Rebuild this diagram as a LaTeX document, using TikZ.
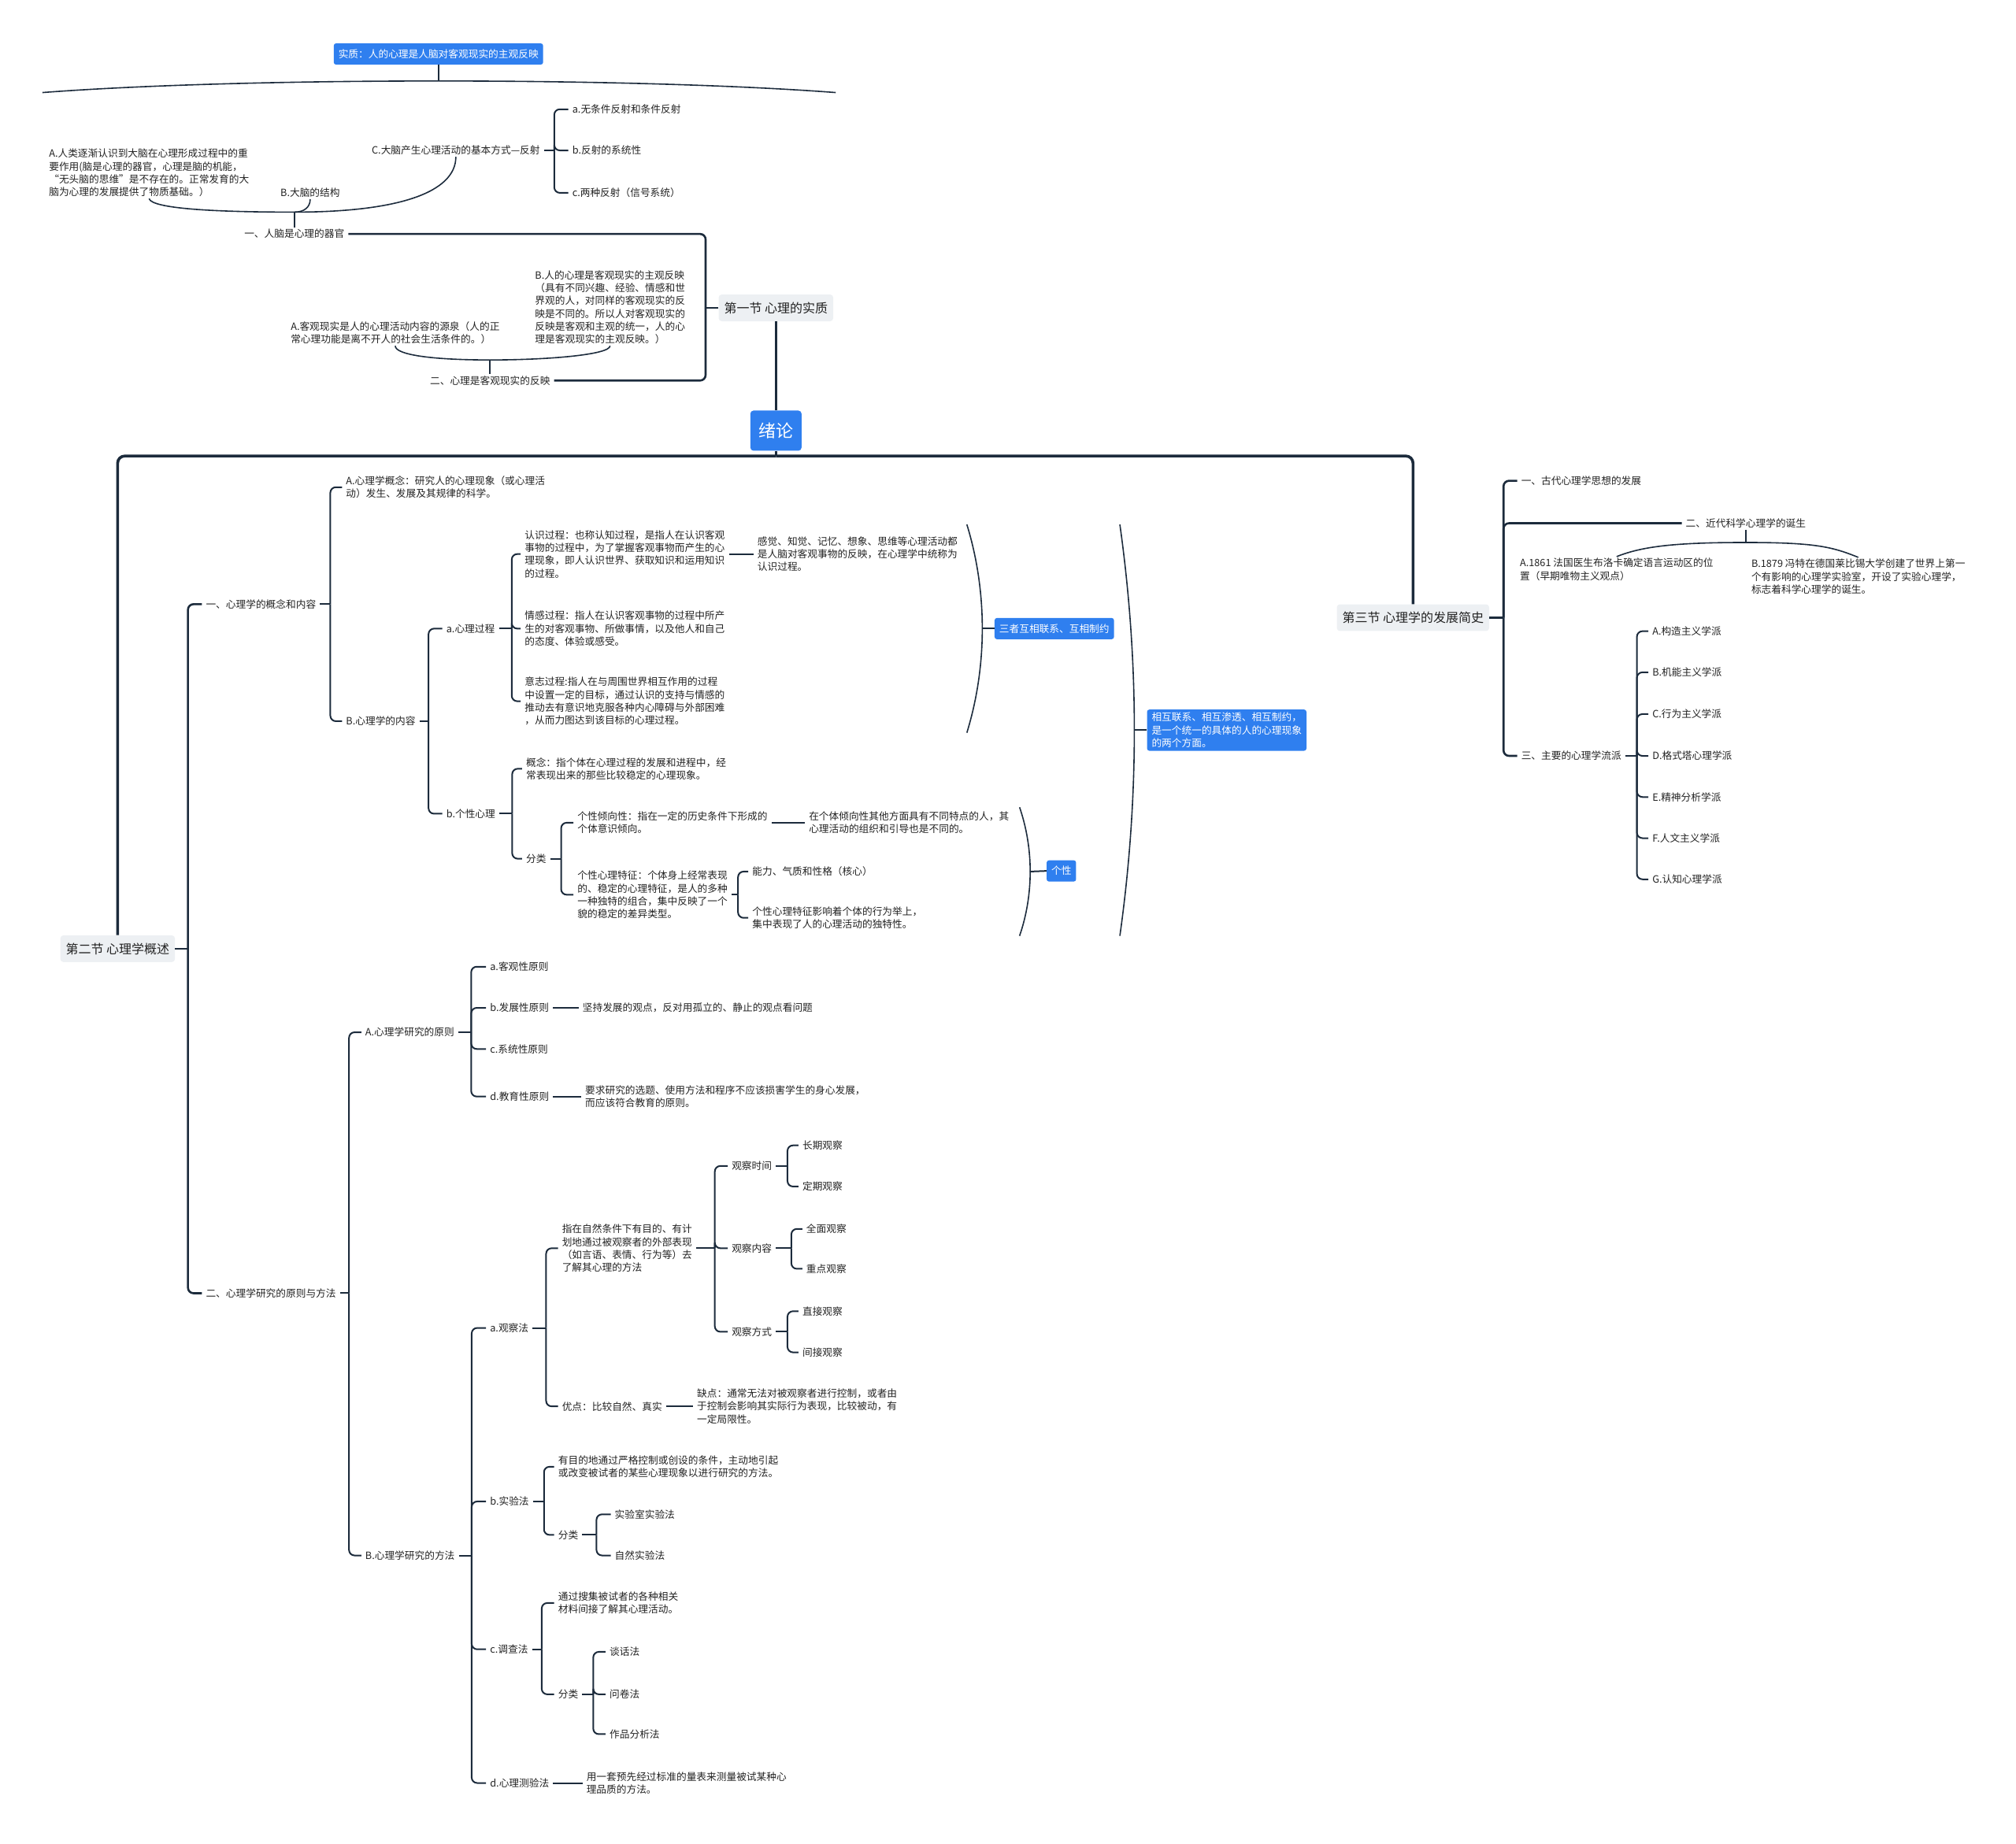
\documentclass[tikz,border=0pt]{standalone}
\usepackage{fontspec}
\setmainfont{Noto Sans CJK SC}
\usetikzlibrary{positioning}
\definecolor{mmblue}{HTML}{2F7FEF}
\definecolor{mmline}{HTML}{1C2B3C}
\definecolor{mmgray}{HTML}{EDF0F3}
\definecolor{mmtext}{HTML}{222222}
\tikzset{
  mm/txt/.style={inner xsep=5pt, inner ysep=2pt, align=left, text=mmtext, font={\fontsize{12.7}{16.3}\selectfont}},
  mm/sec/.style={fill=mmgray, rounded corners=4pt, inner xsep=7pt, minimum height=34pt, text=mmtext, font={\fontsize{16}{20}\selectfont}},
  mm/blue/.style={fill=mmblue, text=white, rounded corners=3pt, inner xsep=6pt, inner ysep=4pt, minimum height=27pt, align=left, font={\fontsize{12.7}{16.3}\selectfont}},
  mm/root/.style={mm/blue, rounded corners=4pt, minimum width=65pt, minimum height=51pt, font={\fontsize{22}{26}\selectfont}},
  mm/br/.style={draw=mmline, line width=2pt, rounded corners=7pt},
  mm/br2/.style={mm/br, line width=2.6pt},
  mm/trunk/.style={draw=mmline, line width=3.6pt, rounded corners=9pt},
  mm/sum/.style={draw=mmline, line width=1.6pt}
}
\begin{document}
\begin{tikzpicture}[x=1.633pt, y=-1.633pt]
\useasboundingbox (0,0) rectangle (1568,1434);
% 第一节
\node[mm/blue] (essence) at (341,42) {实质：人的心理是人脑对客观现实的主观反映};
\node[mm/txt, anchor=west] (brainA) at (35,134.5) {A.人类逐渐认识到大脑在心理形成过程中的重\\要作用(脑是心理的器官，心理是脑的机能，\\“无头脑的思维”是不存在的。正常发育的大\\脑为心理的发展提供了物质基础。）};
\node[mm/txt, anchor=west] (brainB) at (215,150) {B.大脑的结构};
\node[mm/txt, anchor=west] (brainC) at (286,117) {C.大脑产生心理活动的基本方式—反射};
\node[mm/txt, anchor=west] (refa) at (442,85) {a.无条件反射和条件反射};
\node[mm/txt, anchor=west] (refb) at (442,117) {b.反射的系统性};
\node[mm/txt, anchor=west] (refc) at (442,150) {c.两种反射（信号系统）};
\node[mm/txt, anchor=east] (organ) at (271,182) {一、人脑是心理的器官};
\node[mm/txt, anchor=west] (objA) at (223,259) {A.客观现实是人的心理活动内容的源泉（人的正\\常心理功能是离不开人的社会生活条件的。）};
\node[mm/txt, anchor=west] (objB) at (413,239) {B.人的心理是客观现实的主观反映\\（具有不同兴趣、经验、情感和世\\界观的人，对同样的客观现实的反\\映是不同的。所以人对客观现实的\\反映是客观和主观的统一，人的心\\理是客观现实的主观反映。）};
\node[mm/txt, anchor=east] (reflect) at (431,296) {二、心理是客观现实的反映};
\node[mm/sec] (sec1) at (603.5,239.5) {第一节 心理的实质};
\node[mm/root] (root) at (603.5,335) {绪论};

\coordinate (arcL) at (33,72);
\coordinate (arcR) at (650,72);
\coordinate (arcM) at (essence.south |- 0,63);
\coordinate (orgJ) at (organ.north |- 0,165);
\coordinate (objJ) at (reflect.north |- 0,280);
\draw[mm/sum] (arcL) .. controls (190,60) and (492,60) .. (arcR);
\draw[mm/sum] (essence.south) -- (arcM);
\draw[mm/br] (brainC.east) -- ++(8,0);
\foreach \k in {refa,refb,refc} \draw[mm/br] (brainC.east) ++(8,0) |- (\k.west);
\draw[mm/sum] (brainA.south) .. controls +(2,8) and +(-60,0) .. (orgJ) .. controls +(80,0) and +(0,28) .. (brainC.south);
\draw[mm/sum] (brainB.south) .. controls +(0,6) and +(8,0) .. (orgJ);
\draw[mm/sum] (orgJ) -- (organ.north);
\draw[mm/sum] (objA.south) .. controls +(0,7) and +(-45,0) .. (objJ) .. controls +(45,0) and +(0,7) .. (objB.south);
\draw[mm/sum] (objJ) -- (reflect.north);
\draw[mm/br2] (sec1.west) -- ++(-10,0);
\foreach \k in {organ,reflect} \draw[mm/br2] (sec1.west) ++(-10,0) |- (\k.east);

% 第二节
\node[mm/sec] (sec2) at (91.5,738) {第二节 心理学概述};
\node[mm/txt, anchor=west] (con) at (157,470) {一、心理学的概念和内容};
\node[mm/txt, anchor=west] (res) at (157,1006) {二、心理学研究的原则与方法};
\node[mm/txt, anchor=west] (def) at (266,379) {A.心理学概念：研究人的心理现象（或心理活\\动）发生、发展及其规律的科学。};
\node[mm/txt, anchor=west] (content) at (266,561) {B.心理学的内容};
\node[mm/txt, anchor=west] (proc) at (344,489) {a.心理过程};
\node[mm/txt, anchor=west] (pers) at (344,633) {b.个性心理};
\node[mm/txt, anchor=west] (cog) at (405,431) {认识过程：也称认知过程，是指人在认识客观\\事物的过程中，为了掌握客观事物而产生的心\\理现象，即人认识世界、获取知识和运用知识\\的过程。};
\node[mm/txt, anchor=west] (cogx) at (586,431) {感觉、知觉、记忆、想象、思维等心理活动都\\是人脑对客观事物的反映，在心理学中统称为\\认识过程。};
\node[mm/txt, anchor=west] (emo) at (405,489) {情感过程：指人在认识客观事物的过程中所产\\生的对客观事物、所做事情，以及他人和自己\\的态度、体验或感受。};
\node[mm/txt, anchor=west] (will) at (405,545.5) {意志过程:指人在与周围世界相互作用的过程\\中设置一定的目标，通过认识的支持与情感的\\推动去有意识地克服各种内心障碍与外部困难\\，从而力图达到该目标的心理过程。};
\node[mm/blue] (ps1) at (820,489) {三者互相联系、互相制约};
\node[mm/blue, anchor=west] (ps2) at (892,568) {相互联系、相互渗透、相互制约，\\是一个统一的具体的人的心理现象\\的两个方面。};
\node[mm/txt, anchor=west] (pdef) at (406,598) {概念：指个体在心理过程的发展和进程中，经\\常表现出来的那些比较稳定的心理现象。};
\node[mm/txt, anchor=west] (pcls) at (406,668) {分类};
\node[mm/txt, anchor=west] (tend) at (446,640) {个性倾向性：指在一定的历史条件下形成的\\个体意识倾向。};
\node[mm/txt, anchor=west] (tendx) at (626,640) {在个体倾向性其他方面具有不同特点的人，其\\心理活动的组织和引导也是不同的。};
\node[mm/txt, anchor=west] (trait) at (446,696) {个性心理特征：个体身上经常表现\\的、稳定的心理特征，是人的多种\\一种独特的组合，集中反映了一个\\貌的稳定的差异类型。};
\node[mm/txt, anchor=west] (abil) at (582,678) {能力、气质和性格（核心）};
\node[mm/txt, anchor=west] (traitx) at (582,714) {个性心理特征影响着个体的行为举上，\\集中表现了人的心理活动的独特性。};
\node[mm/blue] (ps3) at (825.5,677.5) {个性};

\node[mm/txt, anchor=west] (princ) at (281,803) {A.心理学研究的原则};
\node[mm/txt, anchor=west] (meth) at (281,1210) {B.心理学研究的方法};
\node[mm/txt, anchor=west] (pa) at (378,752) {a.客观性原则};
\node[mm/txt, anchor=west] (pb) at (378,784) {b.发展性原则};
\node[mm/txt, anchor=west] (pc) at (378,816) {c.系统性原则};
\node[mm/txt, anchor=west] (pd) at (378,853) {d.教育性原则};
\node[mm/txt, anchor=west] (pbx) at (450,784) {坚持发展的观点，反对用孤立的、静止的观点看问题};
\node[mm/txt, anchor=west] (pdx) at (452,853) {要求研究的选题、使用方法和程序不应该损害学生的身心发展，\\而应该符合教育的原则。};
\node[mm/txt, anchor=west] (obs) at (378,1033) {a.观察法};
\node[mm/txt, anchor=west] (exp) at (378,1168) {b.实验法};
\node[mm/txt, anchor=west] (srv) at (378,1283) {c.调查法};
\node[mm/txt, anchor=west] (tst) at (378,1387) {d.心理测验法};
\node[mm/txt, anchor=west] (obsdef) at (434,971) {指在自然条件下有目的、有计\\划地通过被观察者的外部表现\\（如言语、表情、行为等）去\\了解其心理的方法};
\node[mm/txt, anchor=west] (obsadv) at (434,1094) {优点：比较自然、真实};
\node[mm/txt, anchor=west] (obsdis) at (539,1094) {缺点：通常无法对被观察者进行控制，或者由\\于控制会影响其实际行为表现，比较被动，有\\一定局限性。};
\node[mm/txt, anchor=west] (otime) at (566,907) {观察时间};
\node[mm/txt, anchor=west] (ocont) at (566,971) {观察内容};
\node[mm/txt, anchor=west] (oway) at (566,1036) {观察方式};
\node[mm/txt, anchor=west] (olong) at (621,891) {长期观察};
\node[mm/txt, anchor=west] (oreg) at (621,923) {定期观察};
\node[mm/txt, anchor=west] (oall) at (624,956) {全面观察};
\node[mm/txt, anchor=west] (okey) at (624,987) {重点观察};
\node[mm/txt, anchor=west] (odir) at (621,1020) {直接观察};
\node[mm/txt, anchor=west] (oind) at (621,1052) {间接观察};
\node[mm/txt, anchor=west] (expdef) at (431,1141) {有目的地通过严格控制或创设的条件，主动地引起\\或改变被试者的某些心理现象以进行研究的方法。};
\node[mm/txt, anchor=west] (expcls) at (431,1194) {分类};
\node[mm/txt, anchor=west] (lab) at (475,1178) {实验室实验法};
\node[mm/txt, anchor=west] (nat) at (475,1210) {自然实验法};
\node[mm/txt, anchor=west] (srvdef) at (431,1247) {通过搜集被试者的各种相关\\材料间接了解其心理活动。};
\node[mm/txt, anchor=west] (srvcls) at (431,1318) {分类};
\node[mm/txt, anchor=west] (talk) at (471,1285) {谈话法};
\node[mm/txt, anchor=west] (ques) at (471,1318) {问卷法};
\node[mm/txt, anchor=west] (work) at (471,1349) {作品分析法};
\node[mm/txt, anchor=west] (tstx) at (453,1387) {用一套预先经过标准的量表来测量被试某种心\\理品质的方法。};

\draw[mm/br2] (sec2.east) -- ++(10,0);
\foreach \k in {con,res} \draw[mm/br2] (sec2.east) ++(10,0) |- (\k.west);
\draw[mm/br] (con.east) -- ++(8,0);
\foreach \k in {def,content} \draw[mm/br] (con.east) ++(8,0) |- (\k.west);
\draw[mm/br] (content.east) -- ++(7,0);
\foreach \k in {proc,pers} \draw[mm/br] (content.east) ++(7,0) |- (\k.west);
\draw[mm/br] (proc.east) -- ++(10,0);
\foreach \k in {cog,emo,will} \draw[mm/br] (proc.east) ++(10,0) |- (\k.west);
\draw[mm/br] (cog.east) -- (cogx.west);
\draw[mm/br] (pers.east) -- ++(10,0);
\foreach \k in {pdef,pcls} \draw[mm/br] (pers.east) ++(10,0) |- (\k.west);
\draw[mm/br] (pcls.east) -- ++(8.5,0);
\foreach \k in {tend,trait} \draw[mm/br] (pcls.east) ++(8.5,0) |- (\k.west);
\draw[mm/br] (tend.east) -- (tendx.west);
\draw[mm/br] (trait.east) -- ++(5,0);
\foreach \k in {abil,traitx} \draw[mm/br] (trait.east) ++(5,0) |- (\k.west);

\coordinate (s1) at (764,489);
\coordinate (s2) at (882,568);
\coordinate (s3) at (801,678);
\draw[mm/sum] (752,408) .. controls (768,460) and (768,518) .. (752,570);
\draw[mm/sum] (871,408) .. controls (886,515) and (886,621) .. (871,728);
\draw[mm/sum] (793,628) .. controls (804,660) and (804,696) .. (793,728);
\draw[mm/br] (s1) -- (ps1.west);
\draw[mm/br] (s2) -- (ps2.west);
\draw[mm/br] (s3) -- (ps3.west);

\draw[mm/br] (res.east) -- ++(7,0);
\foreach \k in {princ,meth} \draw[mm/br] (res.east) ++(7,0) |- (\k.west);
\draw[mm/br] (princ.east) -- ++(10,0);
\foreach \k in {pa,pb,pc,pd} \draw[mm/br] (princ.east) ++(10,0) |- (\k.west);
\draw[mm/br] (pb.east) -- (pbx.west);
\draw[mm/br] (pd.east) -- (pdx.west);
\draw[mm/br] (meth.east) -- ++(10,0);
\foreach \k in {obs,exp,srv,tst} \draw[mm/br] (meth.east) ++(10,0) |- (\k.west);
\draw[mm/br] (obs.east) -- ++(10.5,0);
\foreach \k in {obsdef,obsadv} \draw[mm/br] (obs.east) ++(10.5,0) |- (\k.west);
\draw[mm/br] (obsadv.east) -- (obsdis.west);
\draw[mm/br] (obsdef.east) -- ++(14.5,0);
\foreach \k in {otime,ocont,oway} \draw[mm/br] (obsdef.east) ++(14.5,0) |- (\k.west);
\draw[mm/br] (otime.east) -- ++(9,0);
\foreach \k in {olong,oreg} \draw[mm/br] (otime.east) ++(9,0) |- (\k.west);
\draw[mm/br] (ocont.east) -- ++(12,0);
\foreach \k in {oall,okey} \draw[mm/br] (ocont.east) ++(12,0) |- (\k.west);
\draw[mm/br] (oway.east) -- ++(9,0);
\foreach \k in {odir,oind} \draw[mm/br] (oway.east) ++(9,0) |- (\k.west);
\draw[mm/br] (exp.east) -- ++(8.5,0);
\foreach \k in {expdef,expcls} \draw[mm/br] (exp.east) ++(8.5,0) |- (\k.west);
\draw[mm/br] (expcls.east) -- ++(11,0);
\foreach \k in {lab,nat} \draw[mm/br] (expcls.east) ++(11,0) |- (\k.west);
\draw[mm/br] (srv.east) -- ++(7.5,0);
\foreach \k in {srvdef,srvcls} \draw[mm/br] (srv.east) ++(7.5,0) |- (\k.west);
\draw[mm/br] (srvcls.east) -- ++(8.5,0);
\foreach \k in {talk,ques,work} \draw[mm/br] (srvcls.east) ++(8.5,0) |- (\k.west);
\draw[mm/br] (tst.east) -- (tstx.west);

% 第三节
\node[mm/sec] (sec3) at (1099,480.5) {第三节 心理学的发展简史};
\node[mm/txt, anchor=west] (anc) at (1180,374) {一、古代心理学思想的发展};
\node[mm/txt, anchor=west] (modern) at (1308,407) {二、近代科学心理学的诞生};
\node[mm/txt, anchor=west] (modA) at (1179,443) {A.1861 法国医生布洛卡确定语言运动区的位\\置（早期唯物主义观点）};
\node[mm/txt, anchor=west] (modB) at (1359,448.5) {B.1879 冯特在德国莱比锡大学创建了世界上第一\\个有影响的心理学实验室，开设了实验心理学，\\标志着科学心理学的诞生。};
\node[mm/txt, anchor=west] (schools) at (1180,588) {三、主要的心理学流派};
\node[mm/txt, anchor=west] (sa) at (1282,491) {A.构造主义学派};
\node[mm/txt, anchor=west] (sb) at (1282,523) {B.机能主义学派};
\node[mm/txt, anchor=west] (sc) at (1282,555.5) {C.行为主义学派};
\node[mm/txt, anchor=west] (sd) at (1282,588) {D.格式塔心理学派};
\node[mm/txt, anchor=west] (se) at (1282,620) {E.精神分析学派};
\node[mm/txt, anchor=west] (sf) at (1282,652) {F.人文主义学派};
\node[mm/txt, anchor=west] (sg) at (1282,684) {G.认知心理学派};

\coordinate (modJ) at (modern.south |- 0,422);
\draw[mm/br2] (sec3.east) -- ++(11,0);
\foreach \k in {anc,modern,schools} \draw[mm/br2] (sec3.east) ++(11,0) |- (\k.west);
\draw[mm/sum] (modern.south) -- (modJ);
\draw[mm/sum] (modA.north) .. controls +(20,-8) and +(-55,0) .. (modJ) .. controls +(55,0) and +(-20,-8) .. (modB.north);
\draw[mm/br] (schools.east) -- ++(9,0);
\foreach \k in {sa,sb,sc,sd,se,sf,sg} \draw[mm/br] (schools.east) ++(9,0) |- (\k.west);

% 绪论
\draw[mm/trunk] (sec1) -- (root);
\draw[mm/trunk] (root.south) -- ++(0,4);
\foreach \k in {sec2,sec3} \draw[mm/trunk] (root.south) ++(0,4) -| (\k.north);
\end{tikzpicture}
\end{document}
